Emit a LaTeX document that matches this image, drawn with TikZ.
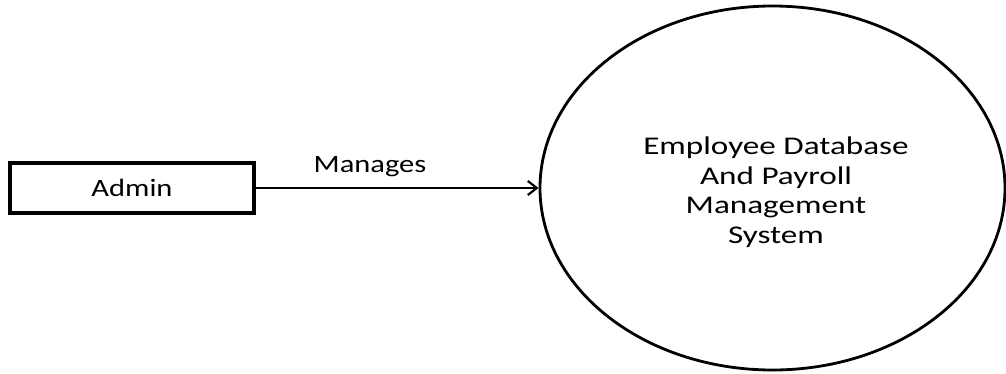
\documentclass[tikz,border=0pt]{standalone}
\usepackage{fontspec}
\setmainfont{Carlito}
\usetikzlibrary{shapes.geometric,arrows.meta}
\newcommand{\wtxt}[1]{\scalebox{1.22}[1]{#1}}
\newcommand{\wbig}[1]{\scalebox{1.3}[1]{#1}}
\begin{document}
\begin{tikzpicture}[x=1pt,y=-1pt,
  every node/.style={font=\fontsize{25}{29}\selectfont},
  entity/.style={draw, line width=3.2pt, minimum width=244pt, minimum height=50pt, inner sep=0pt},
  proc/.style={draw, ellipse, line width=2.8pt, minimum width=465pt, minimum height=364pt, inner sep=0pt, align=center},
  flow/.style={line width=2.3pt, -{Straight Barb[length=9pt,width=14pt,line width=2.2pt]}}]
\useasboundingbox (0,0) rectangle (1006,373);
\node[entity] (admin) at (132,188) {\wtxt{Admin}};
\node[proc] (sys) at (772.5,188) {};
\node[align=center, font=\fontsize{25.5}{29.5}\selectfont] (syslabel) at (776,192) {\wbig{Employee Database}\\\wbig{And Payroll}\\\wbig{Management}\\\wbig{System}};
\draw[flow] (admin.east) -- (sys.west);
\node (lbl) at (370,167) {\wtxt{Manages}};
\end{tikzpicture}
\end{document}
